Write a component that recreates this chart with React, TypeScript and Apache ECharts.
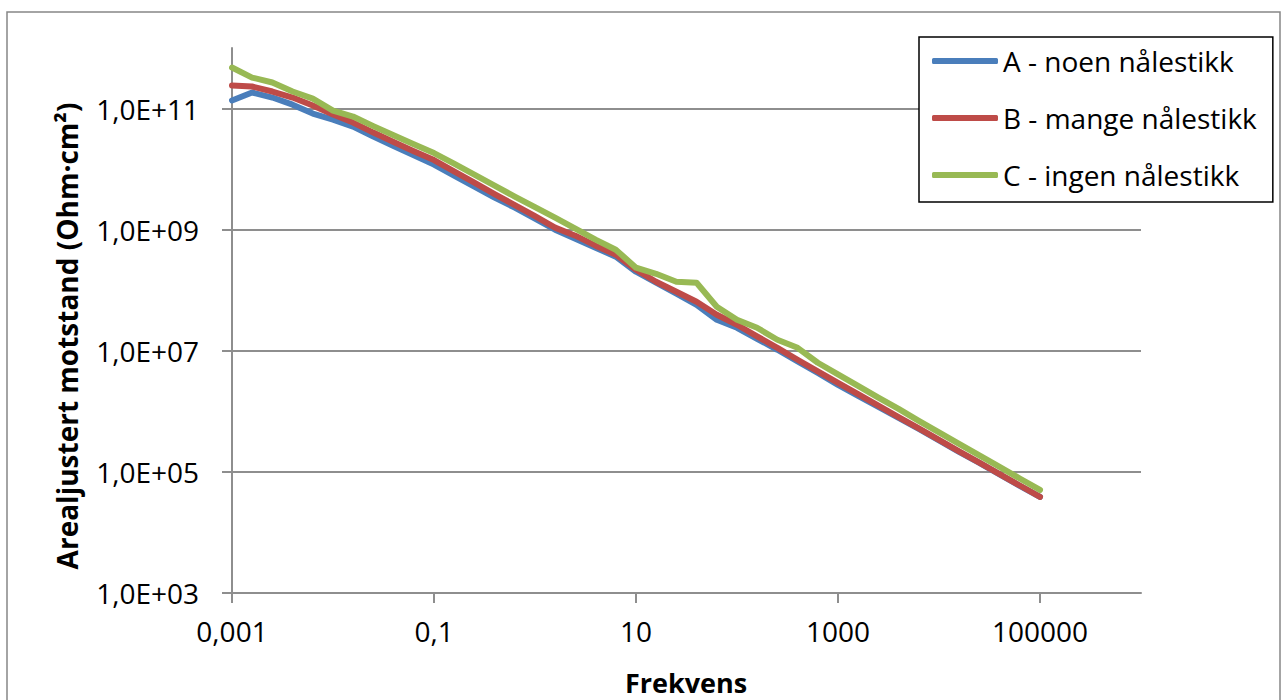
import React, { useEffect, useRef } from "react";
import * as echarts from "echarts";

// Frequencies (Hz), 5 points per decade
const FREQ = [
  0.001, 0.00158, 0.00251, 0.00398, 0.00631, 0.01, 0.0158, 0.0251, 0.0398, 0.0631,
  0.1, 0.158, 0.251, 0.398, 0.631, 1, 1.58, 2.51, 3.98, 6.31,
  10, 15.8, 25.1, 39.8, 63.1, 100, 158, 251, 398, 631,
  1000, 1580, 2510, 3980, 6310, 10000, 15800, 25100, 39800, 63100, 100000,
];

const SERIES_NAMES = ["A - noen nålestikk", "B - mange nålestikk", "C - ingen nålestikk"];

// Area-adjusted resistance (Ohm·cm²)
const A_NOEN = [
  1.36e11, 1.84e11, 1.52e11, 1.16e11, 8.26e10, 6.58e10, 5.04e10, 3.44e10, 2.41e10, 1.7e10,
  1.19e10, 7.81e9, 5.14e9, 3.38e9, 2.31e9, 1.52e9, 1.0e9, 7.1e8, 5.04e8, 3.58e8,
  2.02e8, 1.33e8, 8.75e7, 5.75e7, 3.25e7, 2.4e7, 1.58e7, 1.04e7, 6.7e6, 4.33e6,
  2.74e6, 1.8e6, 1.19e6, 7.81e5, 5.14e5, 3.32e5, 2.14e5, 1.41e5, 9.1e4, 5.87e4, 3.86e4,
];
const B_MANGE = [
  2.4e11, 2.31e11, 1.91e11, 1.52e11, 1.12e11, 7.96e10, 5.87e10, 4.01e10, 2.81e10, 1.98e10,
  1.41e10, 9.2e9, 5.98e9, 3.86e9, 2.54e9, 1.67e9, 1.08e9, 7.96e8, 5.44e8, 3.86e8,
  2.18e8, 1.38e8, 9.44e7, 6.46e7, 3.94e7, 2.69e7, 1.73e7, 1.12e7, 7.1e6, 4.58e6,
  2.96e6, 1.92e6, 1.24e6, 8.05e5, 5.21e5, 3.38e5, 2.19e5, 1.42e5, 9.2e4, 5.96e4, 3.86e4,
];
const C_INGEN = [
  4.76e11, 3.25e11, 2.69e11, 1.91e11, 1.46e11, 9.27e10, 7.38e10, 5.12e10, 3.61e10, 2.57e10,
  1.84e10, 1.23e10, 8.11e9, 5.34e9, 3.51e9, 2.35e9, 1.58e9, 1.04e9, 6.84e8, 4.67e8,
  2.36e8, 1.87e8, 1.38e8, 1.33e8, 5.34e7, 3.25e7, 2.4e7, 1.52e7, 1.12e7, 6.34e6,
  4.09e6, 2.64e6, 1.69e6, 1.1e6, 6.97e5, 4.5e5, 2.9e5, 1.87e5, 1.21e5, 7.78e4, 5.04e4,
];

const X_TICKS = [0.001, 0.1, 10, 1000, 100000];
const X_LABELS = ["0,001", "0,1", "10", "1000", "100000"];
const Y_TICKS = [1e3, 1e5, 1e7, 1e9, 1e11];
const Y_LABELS = ["1,0E+03", "1,0E+05", "1,0E+07", "1,0E+09", "1,0E+11"];
const X_RANGE = [0.001, 1e6];
const Y_RANGE = [1e3, 1e12];

const X_TITLE = "Frekvens";
const Y_TITLE = "Arealjustert motstand (Ohm·cm²)";

const COLORS = ["#4a7ebb", "#be4b48", "#98b954"];
const FONT = "'Open Sans', sans-serif";

export default function App() {
  const ref = useRef<HTMLDivElement>(null);

  useEffect(() => {
    document.body.style.margin = "0";
    const chart = echarts.init(ref.current!, null, { renderer: "svg" });
    const lg = Math.log10;
    const xLogTicks = X_TICKS.map(lg);
    const yLogTicks = Y_TICKS.map(lg);
    const findLabel = (ticks: number[], labels: string[], v: number) => {
      const i = ticks.findIndex((t) => Math.abs(t - v) < 1e-6);
      return i >= 0 ? labels[i] : "";
    };
    const seriesData = [A_NOEN, B_MANGE, C_INGEN];

    chart.setOption({
      animation: false,
      grid: {
        left: 232,
        right: 146,
        top: 48,
        bottom: 107,
        containLabel: false,
        outerBoundsMode: "none",
      },
      xAxis: {
        type: "value",
        min: lg(X_RANGE[0]),
        max: lg(X_RANGE[1]),
        axisLine: { show: true, onZero: false, lineStyle: { color: "#8e8e8e", width: 2 } },
        axisTick: {
          show: true,
          length: 10,
          customValues: xLogTicks,
          lineStyle: { color: "#8e8e8e", width: 2 },
        },
        axisLabel: {
          customValues: xLogTicks,
          formatter: (v: number) => findLabel(xLogTicks, X_LABELS, v),
          margin: 24,
          fontFamily: FONT,
          fontSize: 28,
          color: "#000",
        },
        splitLine: { show: false },
      },
      yAxis: {
        type: "value",
        min: lg(Y_RANGE[0]),
        max: lg(Y_RANGE[1]),
        axisLine: { show: true, onZero: false, lineStyle: { color: "#8e8e8e", width: 2 } },
        axisTick: {
          show: true,
          length: 10,
          customValues: yLogTicks,
          lineStyle: { color: "#8e8e8e", width: 2 },
        },
        axisLabel: {
          customValues: yLogTicks,
          formatter: (v: number) => findLabel(yLogTicks, Y_LABELS, v),
          margin: 33,
          fontFamily: FONT,
          fontSize: 28,
          color: "#000",
        },
        splitLine: { show: true, lineStyle: { color: "#8e8e8e", width: 2 } },
      },
      legend: {
        orient: "vertical",
        left: 919,
        top: 37,
        padding: [10, 16, 13, 13],
        itemGap: 29,
        itemWidth: 66,
        itemHeight: 6,
        icon: "roundRect",
        borderColor: "#000",
        borderWidth: 1.5,
        backgroundColor: "#fff",
        textStyle: { fontSize: 28, fontFamily: FONT, color: "#000" },
        data: SERIES_NAMES,
      },
      graphic: [
        {
          type: "rect",
          shape: { x: 7, y: 12, width: 1273, height: 700 },
          style: { fill: "none", stroke: "#868686", lineWidth: 1.5 },
          silent: true,
        },
        {
          type: "text",
          x: 67,
          y: 336,
          rotation: Math.PI / 2,
          style: {
            text: Y_TITLE,
            fontFamily: FONT,
            fontSize: 28,
            fontWeight: "bold",
            fill: "#000",
            textAlign: "center",
            textVerticalAlign: "middle",
          },
        },
        {
          type: "text",
          x: 686,
          y: 682,
          style: {
            text: X_TITLE,
            fontFamily: FONT,
            fontSize: 27,
            fontWeight: "bold",
            fill: "#000",
            textAlign: "center",
            textVerticalAlign: "middle",
          },
        },
      ],
      series: SERIES_NAMES.map((name, i) => ({
        name,
        type: "line",
        symbol: "none",
        showSymbol: false,
        color: COLORS[i],
        lineStyle: { color: COLORS[i], width: 6, cap: "round", join: "round" },
        data: FREQ.map((f, k) => [lg(f), lg(seriesData[i][k])]),
        z: 2 + i,
      })),
    });

    return () => chart.dispose();
  }, []);

  return <div ref={ref} style={{ width: 1287, height: 700 }} />;
}
